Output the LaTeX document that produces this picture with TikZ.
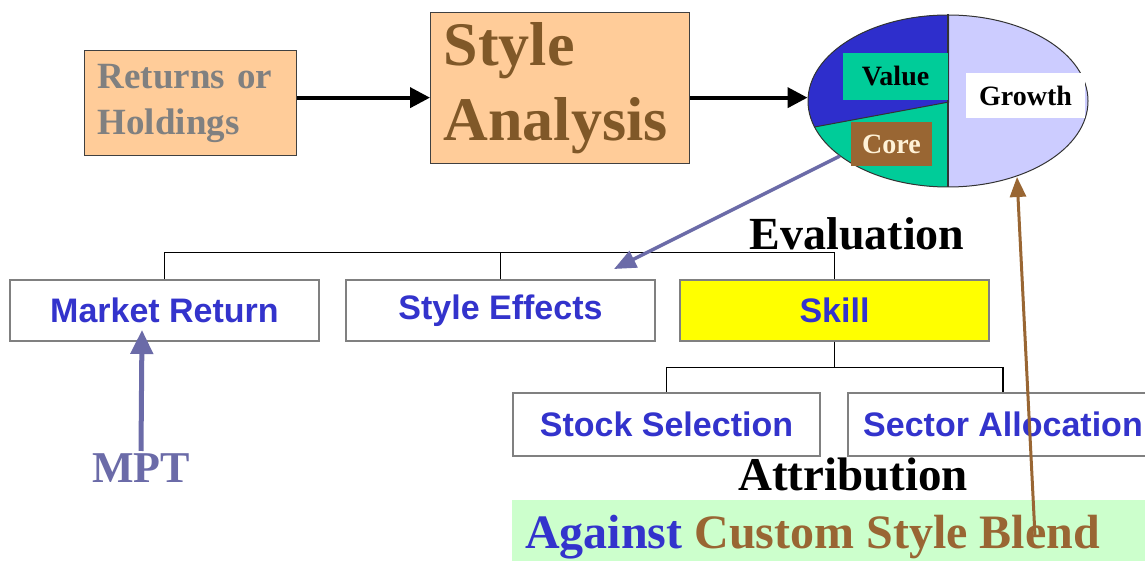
\documentclass[tikz,border=0pt]{standalone}
\usepackage{fontspec}
\setmainfont{Liberation Serif}
\setsansfont{Liberation Sans}
\usetikzlibrary{arrows.meta,shapes.geometric,calc}
\definecolor{peach}{RGB}{255,204,153}
\definecolor{boxgray}{RGB}{128,128,128}
\definecolor{txtblue}{RGB}{51,51,204}
\definecolor{sabrown}{RGB}{128,88,40}
\definecolor{brn}{RGB}{153,102,51}
\definecolor{pblue}{RGB}{46,46,204}
\definecolor{pteal}{RGB}{0,204,153}
\definecolor{lav}{RGB}{204,204,255}
\definecolor{cream}{RGB}{255,242,215}
\definecolor{band}{RGB}{204,255,204}
\definecolor{slate}{RGB}{107,107,168}
\definecolor{skillyel}{RGB}{255,255,0}
\begin{document}
\begin{tikzpicture}[x=1pt,y=-1pt,
  srf/.style={font={\fontsize{#1}{#1}\selectfont\bfseries}},
  box/.style={draw=boxgray, line width=1.2pt, fill=white, minimum width=309, minimum height=61, inner sep=0,
    font={\fontsize{34}{40}\selectfont\sffamily\bfseries}, text=txtblue},
  piebox/.style={inner sep=0, font={\fontsize{28}{28}\selectfont\bfseries}},
  tree/.style={line width=1.3pt, black},
  blk/.style={line width=4pt, -{Triangle[length=20pt,width=20pt]}},
  heavy/.style={line width=3.5pt, -{Triangle[length=22pt,width=18pt]}}
]
\useasboundingbox (0,0) rectangle (1145,561);

% top boxes
\node[draw=black!75, line width=1.3pt, fill=peach, anchor=north west, minimum width=212, minimum height=105,
  inner xsep=13pt, inner ysep=0, align=left, text width=186, text=boxgray,
  font={\fontsize{37}{46}\selectfont\bfseries}] (ret) at (84,50) {Returns or\\Holdings};
\node[draw=black!75, line width=1.3pt, fill=peach, anchor=north west, minimum width=259, minimum height=151,
  inner xsep=13pt, inner ysep=0, align=left, text width=233, text=sabrown,
  font={\fontsize{62}{75}\selectfont\bfseries}] (sa) at (430,12) {Style\\Analysis};

% pie
\begin{scope}
  \clip (948,101) ellipse [x radius=140, y radius=86];
  \fill[lav] (949,0) rectangle (1100,200);
  \fill[pteal] (800,0) rectangle (949,200);
  \fill[pblue] (800,0) -- (949,0) -- (949,102) -- (814.6,127) -- (800,127) -- cycle;
\end{scope}
\node[ellipse, draw=black!80, line width=1pt, minimum width=280, minimum height=172, inner sep=0] (pie) at (948,101) {};
\draw[black!80, line width=1.2pt] (pie.north) -- (pie.south);
\draw[black!80, line width=1pt] (814.6,127) -- (949,102);
\node[piebox, fill=pteal, minimum width=105, minimum height=47, text=black] (val) at (895.5,76.5) {Value};
\node[piebox, fill=brn, minimum width=81, minimum height=44, text=cream] (core) at (891.5,144) {Core};
\node[piebox, fill=white, minimum width=119, minimum height=45, text=black] (gro) at (1025.5,95.5) {Growth};

% top arrows
\draw[blk] ([yshift=5.5pt]ret.east) coordinate (a1) -- (a1 -| sa.west);
\draw[blk] (sa.east |- a1) -- (a1 -| pie.west);

% evaluation level
\node[srf=46, anchor=base] (evl) at (857,250) {Evaluation};
\node[box] (mr) at (164.5,310.5) {Market Return};
\node[box] (se) at (500.5,310.5) {Style Effects};
\node[box, fill=skillyel] (sk) at (834.5,310.5) {Skill};
\draw[tree] (mr.north) -- ++(0,-27) -| (sk.north);
\draw[tree] (se.north) -- ++(0,-27);

% attribution level
\node[box, minimum width=307, minimum height=63] (ss) at (666.5,424.5) {Stock Selection};
\node[box, minimum width=310, minimum height=63] (sal) at (1003,424.5) {Sector Allocation};
\draw[tree] (sk.south) -- ++(0,26) -| (ss.north);
\draw[tree] (sk.south) -- ++(0,26) -| (sal.north);
\node[srf=47, anchor=base] (att) at (853,490) {Attribution};

% band
\node[fill=band, anchor=north west, minimum width=633, minimum height=61, inner sep=0] (bd) at (512,500) {};
\node[srf=48, anchor=base west, inner sep=0] (ag) at (525,548) {\textcolor{txtblue}{Against} \textcolor{brn}{Custom Style Blend}};

% MPT
\node[srf=44, anchor=base, text=slate, inner sep=2pt] (mpt) at (141,482) {MPT};
\coordinate (mptTip) at (142,330);
\draw[heavy, slate, line width=5pt, -{Triangle[length=24pt,width=22pt]}] (mpt.north) -- (mptTip);

% purple arrow from pie to style effects
\coordinate (seTip) at (614,269);
\draw[heavy, slate] (pie.207) -- (seTip);

% brown arrow from band to pie
\coordinate (brStart) at (1035,536);
\draw[line width=3pt, brn, -{Triangle[length=20pt,width=16pt]}] (brStart) -- (1017,177) coordinate (brTip);
\end{tikzpicture}
\end{document}
